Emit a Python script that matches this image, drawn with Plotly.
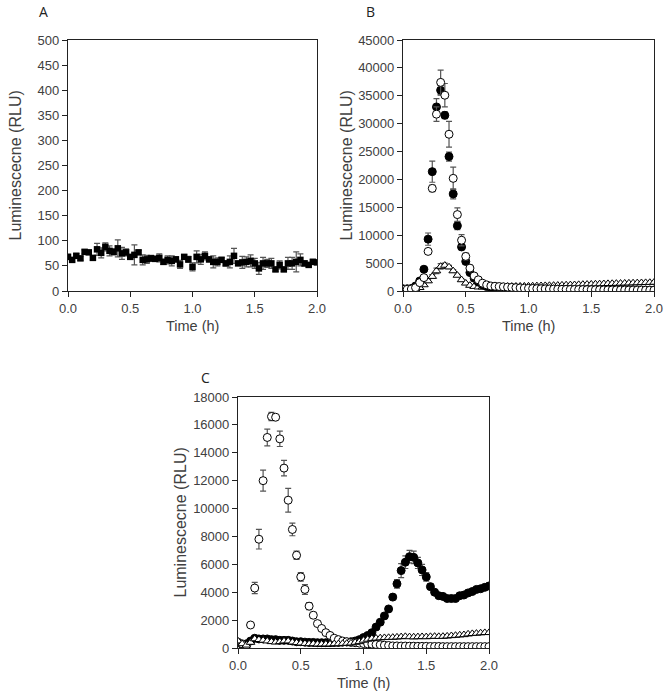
import plotly.graph_objects as go

# time points every 2 minutes (h)
time_h = [i / 30 for i in range(61)]

# ---- Panel A ----
a_mean = [68,62,70,65,78,77,66,83,76,88,80,78,85,75,77,68,72,77,62,63,65,64,66,58,62,60,63,53,68,63,
          48,68,63,70,63,58,58,62,55,58,70,55,57,58,60,55,45,55,55,55,43,52,43,55,55,58,62,55,52,58,57]
a_err = [5,4,5,4,4,3,4,12,10,8,10,6,17,12,7,4,20,4,10,8,6,5,8,5,8,10,5,8,4,6,
         8,12,10,8,5,12,8,5,5,12,15,4,12,10,12,10,12,12,8,10,4,8,4,12,12,20,12,5,4,5,4]

# ---- Panel B ----
b_filled = [400,400,450,900,1800,3900,9300,21400,33000,36000,31500,24100,17400,11700,7900,5300,3300,2300,1600,1100,
            800,650,600,550,520,500,480,460,440,420,400,390,380,360,350,340,330,320,310,300,
            290,280,270,260,250,240,230,220,210,200,200,190,190,180,180,170,170,160,160,150,150]
b_filled_err = [80,80,80,100,200,300,1100,1900,1500,900,600,800,900,700,500,400,300,200,150,100,
                100,80,80,80,80,80,80,80,80,80,80,80,80,80,80,80,80,80,80,80,
                80,80,80,80,80,80,80,80,80,80,80,80,80,80,80,80,80,80,80,80,80]
b_open = [300,300,350,600,1500,2400,7100,18400,31700,37400,35100,28100,20200,13700,9100,6200,4100,2700,2000,1400,
          1100,900,850,800,750,700,650,600,560,520,480,450,420,400,380,360,340,320,300,290,
          280,270,260,250,240,230,220,210,200,200,190,190,180,180,170,170,160,160,150,150,150]
b_open_err = [80,80,80,100,150,200,400,600,1300,2200,2100,2300,2000,1200,1000,600,500,300,200,100,
              100,80,80,80,80,80,80,80,80,80,80,80,80,80,80,80,80,80,80,80,
              80,80,80,80,80,80,80,80,80,80,80,80,80,80,80,80,80,80,80,80,80]
b_tri = [300,300,320,350,600,1100,1800,2600,3600,4400,4600,4300,3600,2800,2000,1400,1000,800,700,700,
         720,750,760,780,800,820,830,850,860,870,880,900,920,940,960,980,1000,1020,1050,1080,
         1100,1120,1150,1180,1200,1220,1250,1270,1300,1320,1340,1360,1380,1400,1420,1440,1460,1480,1500,1520,1550]
b_tri_err = [50,50,50,50,80,150,250,350,500,500,400,300,250,200,150,100,80,60,50,50,
             50,50,50,50,50,50,50,50,50,50,50,50,50,50,50,50,50,50,50,50,
             50,50,50,50,50,50,50,50,50,50,50,50,50,50,50,50,50,50,50,50,50]

# ---- Panel C ----
c_open = [400,300,200,1650,4300,7800,12000,15100,16600,16550,15000,12900,10600,8500,6650,5100,4200,3000,2350,1750,
          1400,1100,900,700,600,500,450,400,380,350,320,300,280,250,230,200,180,150,150,140,
          140,130,130,120,120,120,110,110,110,100,100,100,100,100,100,100,100,100,100,100,100]
c_open_err = [50,50,50,100,400,700,750,600,300,100,550,550,850,450,300,300,350,250,200,100,
              80,60,50,50,50,50,50,50,50,50,50,50,50,50,50,50,50,50,50,50,
              50,50,50,50,50,50,50,50,50,50,50,50,50,50,50,50,50,50,50,50,50]
c_filled = [400,250,300,500,700,650,650,650,600,600,550,550,550,500,450,450,420,400,400,380,
            380,380,380,400,400,420,430,450,500,600,750,900,1100,1500,1850,2300,2800,3650,4600,5550,
            6150,6550,6500,6100,5600,5100,4400,4000,3750,3700,3550,3550,3550,3750,3800,3950,4050,4200,4250,4350,4450]
c_filled_err = [60,60,60,60,60,60,60,60,60,60,60,60,60,60,60,60,60,60,60,60,
                60,60,60,60,60,60,60,60,60,60,60,60,60,80,100,120,150,150,300,500,
                450,450,450,400,400,300,200,120,100,80,80,80,80,80,80,80,80,80,80,80,80]
c_tri = [500,300,200,400,650,600,550,500,450,420,450,500,500,420,380,350,320,300,300,280,
         280,280,280,300,300,320,330,350,400,450,550,620,680,700,720,740,750,760,780,800,
         820,800,790,800,810,800,820,830,820,830,850,880,900,930,950,1000,1030,1050,1080,1100,1100]

x_ticks = [0.0, 0.5, 1.0, 1.5, 2.0]
y_title = "Luminescecne (RLU)"
x_title = "Time (h)"
panel_labels = ["A", "B", "C"]

FONT = "Liberation Sans, Arial, sans-serif"
TXT = "#404040"
ERRC = "#555555"

fig = go.Figure()

def err(arr):
    return dict(type="data", array=arr, visible=True, color=ERRC, thickness=1.2, width=3)

filled_marker = dict(symbol="circle", size=8, color="black", line=dict(color="black", width=1))
open_marker = dict(symbol="circle", size=8, color="white", line=dict(color="black", width=1))
tri_marker = dict(symbol="triangle-up", size=7.5, color="white", line=dict(color="black", width=1))

# Panel A
fig.add_trace(go.Scatter(x=time_h, y=a_mean, mode="markers", error_y=err(a_err),
                         marker=dict(symbol="square", size=6.5, color="black"),
                         xaxis="x", yaxis="y", showlegend=False))

# Panel B
fig.add_trace(go.Scatter(x=time_h, y=b_tri, mode="markers", error_y=err(b_tri_err),
                         marker=tri_marker, xaxis="x2", yaxis="y2", showlegend=False))
fig.add_trace(go.Scatter(x=time_h, y=b_filled, mode="markers", error_y=err(b_filled_err),
                         marker=filled_marker, xaxis="x2", yaxis="y2", showlegend=False))
fig.add_trace(go.Scatter(x=time_h, y=b_open, mode="markers", error_y=err(b_open_err),
                         marker=open_marker, xaxis="x2", yaxis="y2", showlegend=False))

# Panel C
fig.add_trace(go.Scatter(x=time_h, y=c_filled, mode="markers", error_y=err(c_filled_err),
                         marker=filled_marker, xaxis="x3", yaxis="y3", showlegend=False))
fig.add_trace(go.Scatter(x=time_h, y=c_open, mode="markers", error_y=err(c_open_err),
                         marker=open_marker, xaxis="x3", yaxis="y3", showlegend=False))
fig.add_trace(go.Scatter(x=time_h, y=c_tri, mode="markers",
                         marker=tri_marker, xaxis="x3", yaxis="y3", showlegend=False))

W, H = 666, 695

def xdom(l, r):
    return [l / W, r / W]

def ydom(top, bottom):
    return [1 - bottom / H, 1 - top / H]

def xaxis(dom, anchor):
    return dict(domain=dom, anchor=anchor, range=[0, 2], tickvals=x_ticks, tickformat=".1f",
                showline=True, mirror=True, linecolor="#222", linewidth=1.2, automargin=False,
                ticks="outside", ticklen=5, tickcolor="#222", showgrid=False, zeroline=False,
                tickfont=dict(family=FONT, size=13, color=TXT))

def yaxis(dom, anchor, rng, dtick):
    return dict(domain=dom, anchor=anchor, range=rng, dtick=dtick, tick0=0, tickformat="d",
                showline=True, mirror=True, linecolor="#222", linewidth=1.2, automargin=False,
                ticks="outside", ticklen=5, tickcolor="#222", showgrid=False, zeroline=False,
                tickfont=dict(family=FONT, size=13, color=TXT))

# panel geometry in pixels: (left, right, top, bottom)
panels = [(68, 317, 40, 291), (403, 654, 40, 291), (238, 489, 397, 648)]
ytitle_x = [15, 346, 180]
label_pos = [(43, 11), (370, 11), (205, 377)]

annotations = []
for k, (l, r, t, b) in enumerate(panels):
    annotations.append(dict(text=y_title, textangle=-90, x=ytitle_x[k] / W, y=1 - (t + b) / 2 / H,
                            xref="paper", yref="paper", showarrow=False, xanchor="center", yanchor="middle",
                            font=dict(family=FONT, size=16, color=TXT)))
    annotations.append(dict(text=x_title, x=(l + r) / 2 / W, y=1 - (b + 35) / H,
                            xref="paper", yref="paper", showarrow=False, xanchor="center", yanchor="middle",
                            font=dict(family=FONT, size=14.5, color=TXT)))
    lx, ly = label_pos[k]
    annotations.append(dict(text=panel_labels[k], x=lx / W, y=1 - ly / H, xref="paper", yref="paper",
                            showarrow=False, xanchor="center", yanchor="middle",
                            font=dict(family="Open Sans, sans-serif", size=14, color="#222")))

fig.update_layout(
    width=W, height=H, margin=dict(l=0, r=0, t=0, b=0, autoexpand=False),
    paper_bgcolor="white", plot_bgcolor="white",
    xaxis=xaxis(xdom(*panels[0][:2]), "y"),
    yaxis=yaxis(ydom(*panels[0][2:]), "x", [0, 500], 50),
    xaxis2=xaxis(xdom(*panels[1][:2]), "y2"),
    yaxis2=yaxis(ydom(*panels[1][2:]), "x2", [0, 45000], 5000),
    xaxis3=xaxis(xdom(*panels[2][:2]), "y3"),
    yaxis3=yaxis(ydom(*panels[2][2:]), "x3", [0, 18000], 2000),
    annotations=annotations,
)

fig.write_html("out.html", config={"displayModeBar": False},
               post_script="document.body.style.margin='0';")
